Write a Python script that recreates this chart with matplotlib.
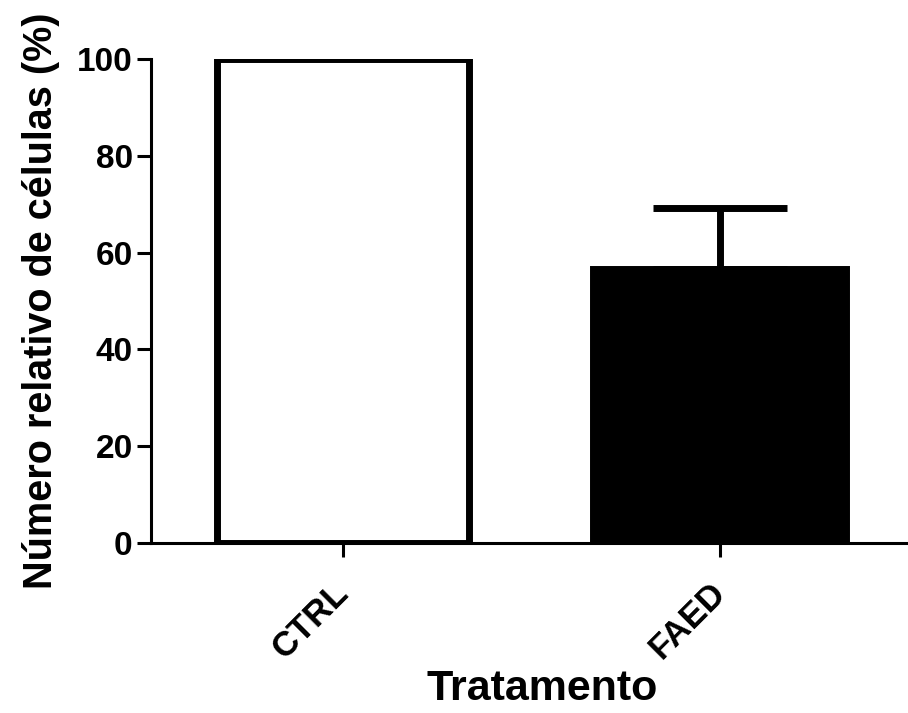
import matplotlib
matplotlib.use("Agg")
import matplotlib.pyplot as plt
from matplotlib.transforms import ScaledTranslation

# Relative cell number per treatment (mean and SEM)
tratamentos = ["CTRL", "FAED"]
media = [100.0, 56.5]
erro = [0.0, 12.7]
cores = ["white", "black"]

plt.rcParams['font.family'] = ['Liberation Sans', 'DejaVu Sans']
plt.rcParams['font.weight'] = 'bold'

fig = plt.figure(figsize=(9.08, 7.13), dpi=100)
ax = fig.add_axes([0.166, 0.239, 0.834, 0.678])

x = range(len(tratamentos))
ax.bar(x, media, width=0.67, color=cores, edgecolor='black', linewidth=5, zorder=2)

# upper error bar only, on the treated group
ax.errorbar([1], [media[1]], yerr=[[0], [erro[1]]], fmt='none', ecolor='black',
            elinewidth=5, capsize=48, capthick=5, zorder=1)

ax.set_xlim(-0.51, 1.5)
ax.set_ylim(0, 100)
ax.set_yticks([0, 20, 40, 60, 80, 100])
ax.set_xticks(list(x))
ax.set_xticklabels(tratamentos, rotation=45, ha='right', rotation_mode='anchor')

for side in ['top', 'right']:
    ax.spines[side].set_visible(False)
for side in ['left', 'bottom']:
    ax.spines[side].set_linewidth(2.2)

ax.tick_params(axis='y', width=2.2, length=10, labelsize=24, pad=3)
ax.tick_params(axis='x', width=2.2, length=10, labelsize=25, pad=14)

# nudge the slanted category names a bit to the left
shift = ScaledTranslation(-0.11, 0, fig.dpi_scale_trans)
for lbl in ax.get_xticklabels():
    lbl.set_transform(lbl.get_transform() + shift)

ax.set_ylabel('Número relativo de células (%)', fontsize=28.5, fontweight='bold', labelpad=12)
ax.set_xlabel('Tratamento', fontsize=31, fontweight='bold')
ax.xaxis.set_label_coords(0.517, -0.262)

plt.savefig('out.png', dpi=100)
